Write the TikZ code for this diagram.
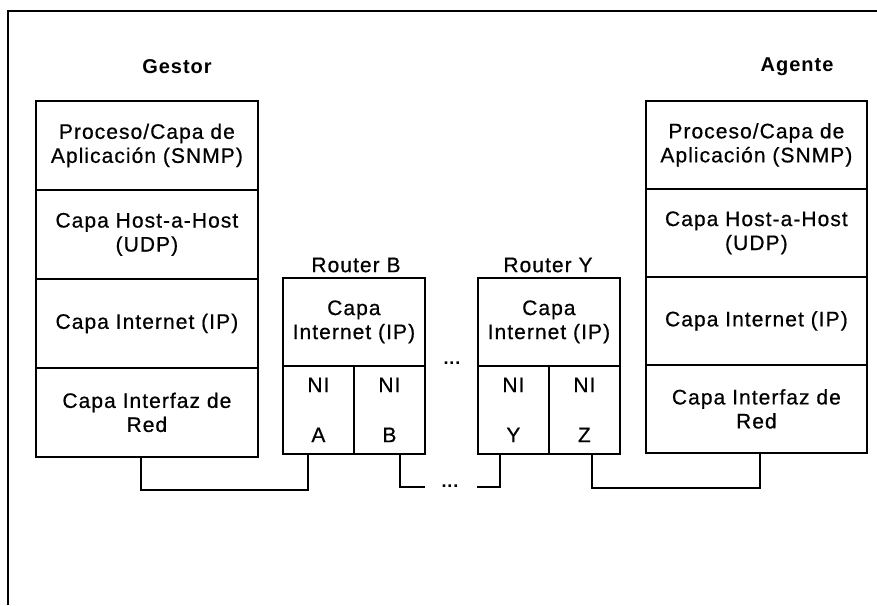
\documentclass[tikz,border=0pt]{standalone}
\usepackage{fontspec}
\setmainfont{Liberation Sans}[LetterSpace=5.0]
\newfontfamily\layfont{Liberation Sans}[LetterSpace=5.0, FakeBold=0.6]
\newfontfamily\titfont{Liberation Sans Bold}[LetterSpace=5.0]
\begin{document}
\begin{tikzpicture}[x=1pt,y=-1pt,
  every node/.style={font=\layfont\fontsize{21}{24}\selectfont},
  lay/.style={draw, line width=1.8pt, rectangle, inner sep=0pt, align=center, anchor=north west},
  gl/.style={lay, minimum width=222pt, minimum height=89pt},
  al/.style={lay, minimum width=221pt, minimum height=88pt},
  rtop/.style={lay, minimum width=142pt, minimum height=88pt},
  ni/.style={lay, minimum width=71pt, minimum height=88pt},
  title/.style={font=\titfont\fontsize{20}{24}\selectfont},
  wire/.style={line width=1.8pt},
  dotsty/.style={font=\titfont\fontsize{18}{18}\selectfont, inner sep=0pt}
]
\useasboundingbox (0,0) rectangle (877,605);
% frame
\draw[line width=1.8pt] (8,605) -- (8,11) -- (877,11);

% titles
\node[title] (tg) at (177,67) {Gestor};
\node[title] (ta) at (797,67) {Agente};
\node (trb) at (356,265) {Router B};
\node (try) at (548,265) {Router Y};

% Gestor stack
\node[gl] (g1) at (35,100) {Proceso/Capa de\\Aplicación (SNMP)};
\node[gl] (g2) at (35,189) {Capa Host-a-Host\\(UDP)};
\node[gl] (g3) at (35,278) {Capa Internet (IP)};
\node[gl] (g4) at (35,367) {Capa Interfaz de\\Red};

% Agente stack
\node[al] (a1) at (645,100) {Proceso/Capa de\\Aplicación (SNMP)};
\node[al] (a2) at (645,188) {Capa Host-a-Host\\(UDP)};
\node[al] (a3) at (645,276) {Capa Internet (IP)};
\node[al] (a4) at (645,364) {Capa Interfaz de\\Red};

% Router B
\node[rtop] (rb) at (282,277) {Capa\\Internet (IP)};
\node[ni] (nia) at (282,365) {NI\\[26pt]A};
\node[ni] (nib) at (353,365) {NI\\[26pt]B};

% Router Y
\node[rtop] (ry) at (477,277) {Capa\\Internet (IP)};
\node[ni] (niy) at (477,365) {NI\\[26pt]Y};
\node[ni] (niz) at (548,365) {NI\\[26pt]Z};

% dots
\node[dotsty] (d1) at (452,363) {...};
\node[dotsty] (d2) at (450,486) {...};

% connector attach points
\coordinate (cg) at (g4.south -| 141,0);
\coordinate (ca) at (nia.south -| 308,0);
\coordinate (cb) at (nib.south -| 400,0);
\coordinate (cy) at (niy.south -| 500,0);
\coordinate (cz) at (niz.south -| 592,0);
\coordinate (cag) at (a4.south -| 760,0);
\coordinate (eb) at (425,487);
\coordinate (ey) at (477,487);

\draw[wire] (cg) -- ++(0,32) -| (ca);
\draw[wire] (cb) |- (eb);
\draw[wire] (cy) |- (ey);
\draw[wire] (cz) -- ++(0,33) -| (cag);
\end{tikzpicture}
\end{document}
